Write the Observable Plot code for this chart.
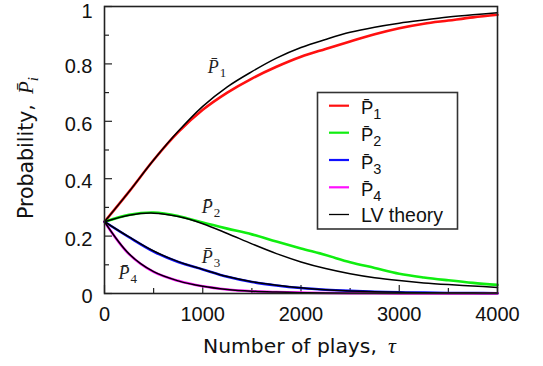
<!DOCTYPE html>
<html><head><meta charset="utf-8">
<script src="https://cdn.jsdelivr.net/npm/d3@7"></script>
<script src="https://cdn.jsdelivr.net/npm/@observablehq/plot@0.6"></script>
<style>
body{margin:0;background:#fff}
#chart{position:relative;width:543px;height:366px}
</style>
</head><body><div id="chart"></div>
<script>
// ---- data ----
const tau = [0,250,500,750,1000,1250,1500,1750,2000,2250,2500,2750,3000,3250,3500,3750,4000];
const p1Sim = [0.25,0.355,0.465,0.562,0.640,0.700,0.749,0.790,0.825,0.852,0.878,0.903,0.924,0.940,0.951,0.962,0.971];
const p2Sim = [0.25,0.274,0.282,0.270,0.247,0.226,0.206,0.181,0.157,0.134,0.109,0.089,0.069,0.056,0.046,0.037,0.030];
const p3Sim = [0.25,0.196,0.146,0.110,0.084,0.058,0.040,0.028,0.019,0.013,0.009,0.006,0.004,0.003,0.002,0.0015,0.001];
const p4Sim = [0.25,0.137,0.075,0.044,0.025,0.014,0.008,0.005,0.003,0.002,0.001,0.001,0.0005,0.0005,0.0005,0.0005,0.0005];
const p1LV = [0.25,0.355,0.465,0.565,0.652,0.720,0.773,0.820,0.857,0.885,0.910,0.928,0.942,0.953,0.963,0.971,0.978];
const p2LV = [0.25,0.273,0.280,0.268,0.243,0.209,0.173,0.139,0.110,0.087,0.069,0.055,0.045,0.037,0.031,0.026,0.021];
const p3LV = [0.25,0.197,0.148,0.111,0.084,0.059,0.041,0.029,0.020,0.013,0.009,0.006,0.004,0.003,0.002,0.0015,0.001];
const p4LV = [0.25,0.138,0.076,0.044,0.025,0.014,0.008,0.005,0.003,0.002,0.001,0.001,0.0005,0.0005,0.0005,0.0005,0.0005];

const seriesNames = ["P1","P2","P3","P4"];
const seriesColors = ["#ff1010","#10ee10","#1010ff","#ff10ff"];
const simValues = [p1Sim,p2Sim,p3Sim,p4Sim];
const lvValues = [p1LV,p2LV,p3LV,p4LV];

const xTicks = [0,1000,2000,3000,4000];
const xMinor = [500,1500,2500,3500];
const yTicks = [0,0.2,0.4,0.6,0.8,1];
const yMinor = [0.1,0.3,0.5,0.7,0.9];

// curve annotations (data coordinates)
const annLabels = ["1","2","3","4"];
const annX = [1050,990,990,142];
const annY = [0.77,0.279,0.108,0.049];

// ---- build ----
const sim = [], lv = [];
seriesNames.forEach((s,i)=>{
  tau.forEach((t,j)=>{
    sim.push({s, t, v: simValues[i][j]});
    lv.push({s, t, v: lvValues[i][j]});
  });
});
const ann = annLabels.map((l,i)=>({l, x: annX[i], y: annY[i]}));

const W = 543, H = 366, mL = 104, mR = 46, mT = 6, mB = 73;
const iw = W - mL - mR, ih = H - mT - mB;

const plot = Plot.plot({
  width: W, height: H,
  marginLeft: mL, marginRight: mR, marginTop: mT, marginBottom: mB,
  style: {fontFamily: "'Liberation Sans', Arial, sans-serif", fontSize: "20px", background: "#fff", color: "#111"},
  x: {domain: [0,4000]},
  y: {domain: [0,1]},
  color: {domain: seriesNames, range: seriesColors},
  marks: [
    Plot.axisX({ticks: xTicks, tickSize: 0, tickPadding: 13, fontSize: 20, label: null, tickFormat: d3.format("d")}),
    Plot.axisY({ticks: yTicks.slice(0, -1), tickSize: 0, tickPadding: 12, dy: 3, fontSize: 20, label: null, tickFormat: d3.format("~g")}),
    Plot.axisY({ticks: yTicks.slice(-1), tickSize: 0, tickPadding: 12, dy: 5, fontSize: 20, label: null, tickFormat: d3.format("~g")}),
    Plot.tickY(yTicks, {y: d=>d, insetRight: iw - 8, stroke: "#222", strokeWidth: 1.2}),
    Plot.tickY(yMinor, {y: d=>d, insetRight: iw - 5, stroke: "#222", strokeWidth: 1.2}),
    Plot.tickX(xTicks, {x: d=>d, insetTop: ih - 8, stroke: "#222", strokeWidth: 1.2}),
    Plot.tickX(xMinor, {x: d=>d, insetTop: ih - 5, stroke: "#222", strokeWidth: 1.2}),
    Plot.line(sim, {x: "t", y: "v", z: "s", stroke: "s", strokeWidth: 2.6, curve: "catmull-rom"}),
    Plot.line(lv, {x: "t", y: "v", z: "s", stroke: "#000", strokeWidth: 1.5, curve: "catmull-rom"}),
    Plot.text(ann, {x: "x", y: "y", text: d=>"P\u0304", textAnchor: "start", lineAnchor: "bottom", fontFamily: "'Liberation Serif', 'Times New Roman', serif", fontStyle: "italic", fontSize: 18, fill: "#222"}),
    Plot.text(ann, {x: "x", y: "y", text: "l", textAnchor: "start", lineAnchor: "bottom", dx: 12, dy: 4, fontFamily: "'Liberation Serif', 'Times New Roman', serif", fontSize: 13, fill: "#222"}),
    Plot.frame({stroke: "#222", strokeWidth: 1.6})
  ]
});

document.getElementById("chart").appendChild(plot);

// ---- axis titles and legend ----
const svg = d3.select(plot);
const serif = "'Liberation Serif', 'Times New Roman', serif";
const sans = "'DejaVu Sans', Verdana, sans-serif";

const yl = svg.append("text").attr("transform", "translate(33,219) rotate(-90)").attr("text-anchor", "start")
  .attr("font-family", sans).attr("font-size", 20.5).attr("fill", "#111");
yl.append("tspan").text("Probability,");
yl.append("tspan").attr("dx", 10).attr("font-family", serif).attr("font-style", "italic").attr("font-size", 21).text("P\u0304");
yl.append("tspan").attr("dy", 5).attr("font-family", serif).attr("font-style", "italic").attr("font-size", 15).text("i");

const xl = svg.append("text").attr("x", 203).attr("y", 353).attr("text-anchor", "start")
  .attr("font-family", sans).attr("font-size", 20.3).attr("fill", "#111");
xl.append("tspan").text("Number of plays,");
xl.append("tspan").attr("dx", 11).attr("font-family", serif).attr("font-style", "italic").attr("font-size", 22).text("\u03C4");

const lg = svg.append("g");
lg.append("rect").attr("x", 317.5).attr("y", 92.5).attr("width", 140).attr("height", 136.5)
  .attr("fill", "#fff").attr("stroke", "#333").attr("stroke-width", 1.6);
const rows = [105.7, 132.7, 160, 187.3, 214.5];
const legItems = seriesNames.map((s,i)=>({color: seriesColors[i], sub: s.slice(1), w: 2.2}));
legItems.push({color: "#000", text: "LV theory", w: 1.3});
legItems.forEach((it,i)=>{
  const y = rows[i];
  lg.append("line").attr("x1", 329).attr("x2", 349).attr("y1", y).attr("y2", y)
    .attr("stroke", it.color).attr("stroke-width", it.w);
  const t = lg.append("text").attr("x", 361).attr("fill", "#111").attr("text-anchor", "start")
    .attr("font-family", "'Liberation Sans', Arial, sans-serif");
  if (it.text) {
    t.attr("y", y + 7.5).attr("font-size", 19.5).text(it.text);
  } else {
    t.attr("y", y + 8.5).attr("font-size", 18.5);
    t.append("tspan").text("P\u0304");
    t.append("tspan").attr("dy", 5).attr("font-size", 14.5).text(it.sub);
  }
});
</script>
</body></html>
